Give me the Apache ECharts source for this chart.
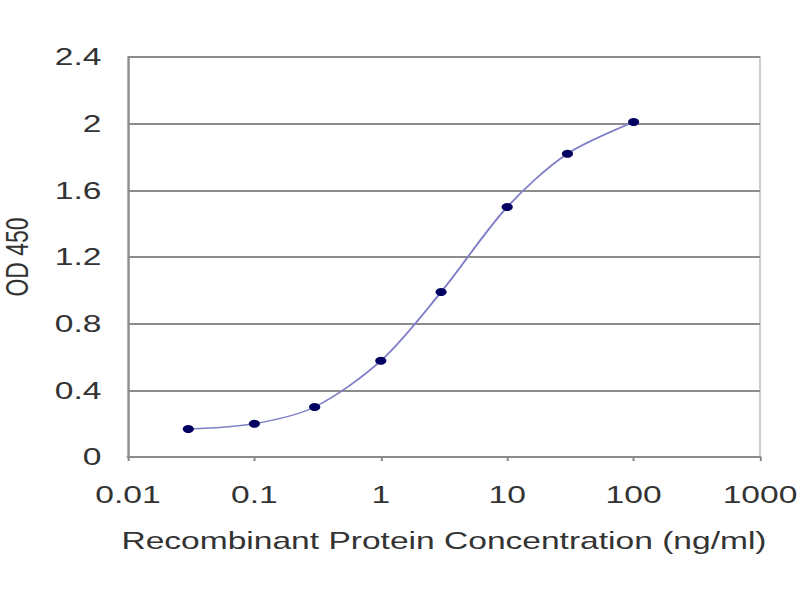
<!DOCTYPE html>
<html>
<head>
<meta charset="utf-8">
<script src="https://cdn.jsdelivr.net/npm/echarts@6/dist/echarts.min.js"></script>
<style>
html,body{margin:0;padding:0;background:#fff;overflow:hidden}
#wrap{width:800px;height:600px;overflow:hidden}
#c{width:572px;height:600px;transform:scaleX(1.3986);transform-origin:0 0}
</style>
</head>
<body>
<div id="wrap"><div id="c"></div></div>
<script>
const concentrations = [0.03, 0.1, 0.3, 1, 3, 10, 30, 100];
const odValues = [0.168, 0.2, 0.3, 0.577, 0.99, 1.5, 1.82, 2.01];
const yTicks = [0, 0.4, 0.8, 1.2, 1.6, 2, 2.4];
const xTicks = [0.01, 0.1, 1, 10, 100, 1000];

const chart = echarts.init(document.getElementById('c'), null, { renderer: 'svg' });
const font = 'Liberation Sans, Arial, sans-serif';
const txt = '#333';
chart.setOption({
  backgroundColor: '#fff',
  animation: false,
  grid: { left: 91.5, right: 28.6, top: 57, bottom: 143, show: true, borderColor: '#cfcfcf', borderWidth: 1.5,
    containLabel: false, outerBoundsMode: 'none' },
  xAxis: {
    type: 'log', logBase: 10, min: xTicks[0], max: xTicks[xTicks.length - 1],
    name: 'Recombinant Protein Concentration (ng/ml)',
    nameLocation: 'middle', nameGap: 72,
    nameTextStyle: { fontFamily: font, fontSize: 24, color: txt },
    axisLine: { lineStyle: { color: '#8c8c8c', width: 2 } },
    axisTick: { show: true, inside: false, length: 4, lineStyle: { color: '#8c8c8c', width: 1.5 } },
    minorTick: { show: false },
    splitLine: { show: false },
    axisLabel: { fontFamily: font, fontSize: 24, color: txt, margin: 26,
      formatter: v => { const t = xTicks.find(x => Math.abs(Math.log10(x) - Math.log10(v)) < 1e-6); return t !== undefined ? String(t) : ''; } }
  },
  yAxis: {
    type: 'value', min: 0, max: 2.4, interval: 0.4,
    name: 'OD 450', nameLocation: 'middle', nameGap: 68,
    nameTextStyle: { fontFamily: font, fontSize: 23, color: txt },
    axisLine: { show: true, lineStyle: { color: '#8c8c8c', width: 1.5 } },
    axisTick: { show: false },
    splitLine: { show: true, lineStyle: { color: '#8c8c8c', width: 2 } },
    axisLabel: { fontFamily: font, fontSize: 24, color: txt, margin: 19,
      formatter: v => { const t = yTicks.find(y => Math.abs(y - v) < 1e-6); return t !== undefined ? String(t) : ''; } }
  },
  series: [{
    type: 'line',
    data: concentrations.map((c, i) => [c, odValues[i]]),
    smooth: 0.3,
    symbol: 'circle', symbolSize: 8,
    itemStyle: { color: '#000060' },
    lineStyle: { color: '#8080c8', width: 1.5 }
  }]
});
</script>
</body>
</html>
